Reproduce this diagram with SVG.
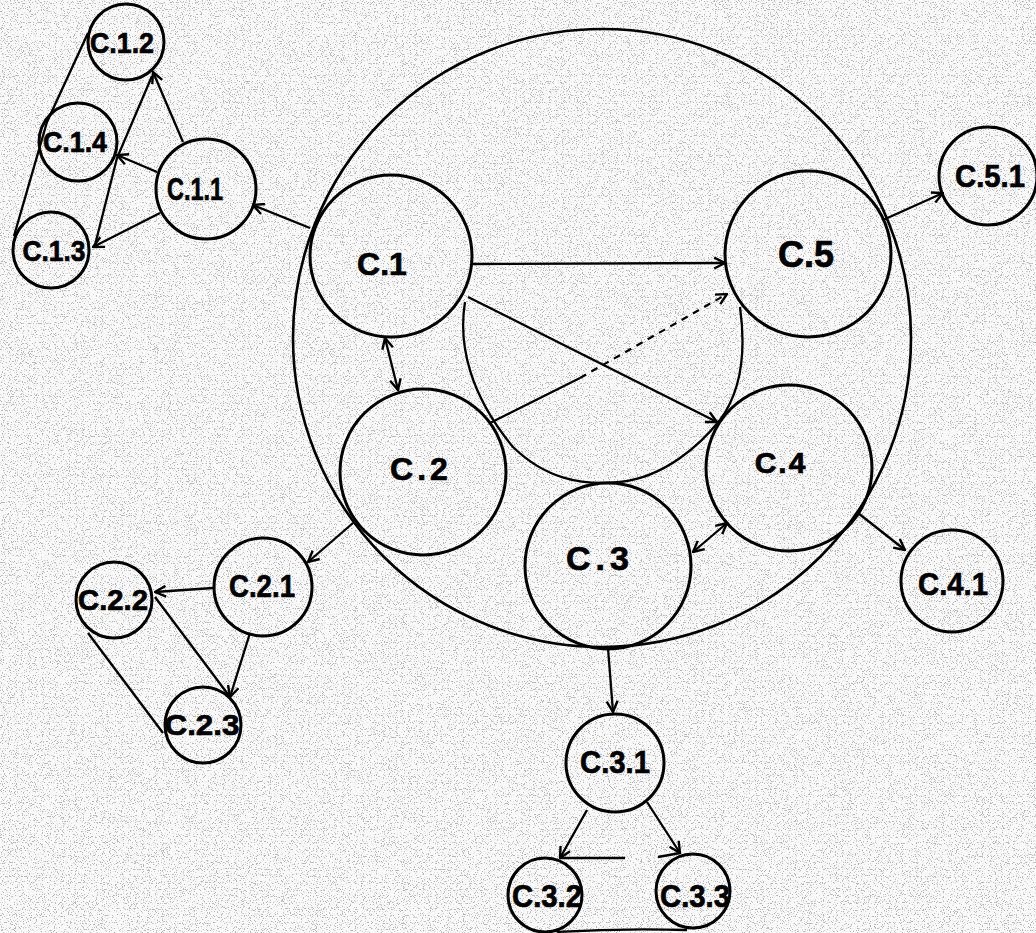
<svg xmlns="http://www.w3.org/2000/svg" width="1036" height="933" viewBox="0 0 1036 933">
<style>
.n{fill:none;stroke:#000;stroke-width:3}
.big{fill:none;stroke:#000;stroke-width:2.6}
.c{fill:none;stroke:#000;stroke-width:2.3}
.d{fill:none;stroke:#000;stroke-width:2.2;stroke-dasharray:7 6}
.t{font-family:"Liberation Sans",Arial,sans-serif;font-weight:bold;fill:#000;stroke:#000;stroke-width:0.7;text-anchor:middle}
.L{font-size:32px}
.s{font-size:30px}
</style>
<defs>
<marker id="ah" viewBox="0 0 12 12" refX="11" refY="6" markerWidth="13" markerHeight="13" markerUnits="userSpaceOnUse" orient="auto-start-reverse">
<path d="M1,1 L11,6 L1,11" fill="none" stroke="#000" stroke-width="2.2"/>
</marker>
<filter id="grain" x="0" y="0" width="1036" height="933" filterUnits="userSpaceOnUse">
<feTurbulence type="fractalNoise" baseFrequency="0.85" numOctaves="2" seed="7"/>
<feColorMatrix type="matrix" values="0 0 0 0 0.1  0 0 0 0 0.1  0 0 0 0 0.1  -10 0 0 0 4.2"/>
</filter>
</defs>
<rect width="1036" height="933" fill="#f9f9f9"/>
<rect width="1036" height="933" filter="url(#grain)" opacity="0.4"/>

<g id="boundary"><circle class="big" cx="602" cy="338" r="309"/></g>

<g id="connectors">
<path class="c" d="M310,228 L253,205" marker-end="url(#ah)"/>
<path class="c" d="M183,142 L153,72" marker-end="url(#ah)"/>
<path class="c" d="M157,172 L117,155" marker-end="url(#ah)"/>
<path class="c" d="M160,213 L93,247" marker-end="url(#ah)"/>
<path class="c" d="M88,33 L47,122 L14,236"/>
<path class="c" d="M152,76 L117,158 L95,245"/>
<path class="c" d="M385,338 L398,390" marker-start="url(#ah)" marker-end="url(#ah)"/>
<path class="c" d="M473,264 L725,263" marker-end="url(#ah)"/>
<path class="c" d="M468,297 L717,422" marker-end="url(#ah)"/>
<path class="c" d="M490,423 L580,378"/>
<path class="d" d="M580,378 L727,294" marker-end="url(#ah)"/>
<path class="c" d="M465,302 C458,345 470,395 513,447 C545,478 580,486 620,482 C665,477 700,445 720,420 C742,390 746,350 740,307"/>
<path class="c" d="M883,220 L943,193" marker-end="url(#ah)"/>
<path class="c" d="M693,552 L727,523" marker-start="url(#ah)" marker-end="url(#ah)"/>
<path class="c" d="M858,513 L905,550" marker-end="url(#ah)"/>
<path class="c" d="M353,523 L308,562" marker-end="url(#ah)"/>
<path class="c" d="M213,588 L155,592" marker-end="url(#ah)"/>
<path class="c" d="M250,633 L230,697" marker-end="url(#ah)"/>
<path class="c" d="M155,597 L230,697"/>
<path class="c" d="M88,633 L163,733"/>
<path class="c" d="M608,648 L613,712" marker-end="url(#ah)"/>
<path class="c" d="M587,810 L560,858" marker-end="url(#ah)"/>
<path class="c" d="M647,802 L680,853" marker-end="url(#ah)"/>
<path class="c" d="M560,858 L625,858"/>
<path class="c" d="M658,857 L680,853"/>
<path class="c" d="M557,932 Q622,928 687,930"/>
</g>

<g id="C1"><circle class="n" cx="391" cy="256" r="81"/><text class="t L" x="382" y="275">C.1</text></g>
<g id="C2"><circle class="n" cx="423" cy="472" r="83"/><text class="t L" x="421" y="480" letter-spacing="4">C.2</text></g>
<g id="C3"><circle class="n" cx="608" cy="566" r="83"/><text class="t" style="font-size:34px" x="600" y="570" letter-spacing="5">C.3</text></g>
<g id="C4"><circle class="n" cx="789" cy="468" r="83"/><text class="t s" x="781" y="473" letter-spacing="2">C.4</text></g>
<g id="C5"><circle class="n" cx="808" cy="254" r="83"/><text class="t" style="font-size:36px" x="806" y="267">C.5</text></g>

<g id="C11"><circle class="n" cx="206" cy="189" r="50"/><text class="t L" x="195" y="200" textLength="56" lengthAdjust="spacingAndGlyphs">C.1.1</text></g>
<g id="C12"><circle class="n" cx="126" cy="42" r="38"/><text class="t s" x="122" y="53" textLength="64" lengthAdjust="spacingAndGlyphs">C.1.2</text></g>
<g id="C13"><circle class="n" cx="51" cy="250" r="38"/><text class="t s" x="54" y="261" textLength="63" lengthAdjust="spacingAndGlyphs">C.1.3</text></g>
<g id="C14"><circle class="n" cx="78" cy="142" r="39"/><text class="t s" x="75" y="152" textLength="64" lengthAdjust="spacingAndGlyphs">C.1.4</text></g>

<g id="C21"><circle class="n" cx="263" cy="587" r="49"/><text class="t L" x="262" y="597" textLength="66" lengthAdjust="spacingAndGlyphs">C.2.1</text></g>
<g id="C22"><circle class="n" cx="114" cy="600" r="38"/><text class="t s" x="113" y="610" textLength="70" lengthAdjust="spacingAndGlyphs">C.2.2</text></g>
<g id="C23"><circle class="n" cx="203" cy="725" r="38"/><text class="t s" x="202" y="735" textLength="75" lengthAdjust="spacingAndGlyphs">C.2.3</text></g>

<g id="C31"><circle class="n" cx="615" cy="763" r="49"/><text class="t L" x="615" y="773" textLength="70" lengthAdjust="spacingAndGlyphs">C.3.1</text></g>
<g id="C32"><circle class="n" cx="545" cy="895" r="37"/><text class="t L" x="547" y="907" textLength="70" lengthAdjust="spacingAndGlyphs">C.3.2</text></g>
<g id="C33"><circle class="n" cx="693" cy="891" r="37"/><text class="t L" x="695" y="907" textLength="70" lengthAdjust="spacingAndGlyphs">C.3.3</text></g>

<g id="C41"><circle class="n" cx="952" cy="581" r="51"/><text class="t L" x="953" y="595" textLength="70" lengthAdjust="spacingAndGlyphs">C.4.1</text></g>
<g id="C51"><circle class="n" cx="988" cy="176" r="49"/><text class="t L" x="990" y="187" textLength="70" lengthAdjust="spacingAndGlyphs">C.5.1</text></g>
</svg>
